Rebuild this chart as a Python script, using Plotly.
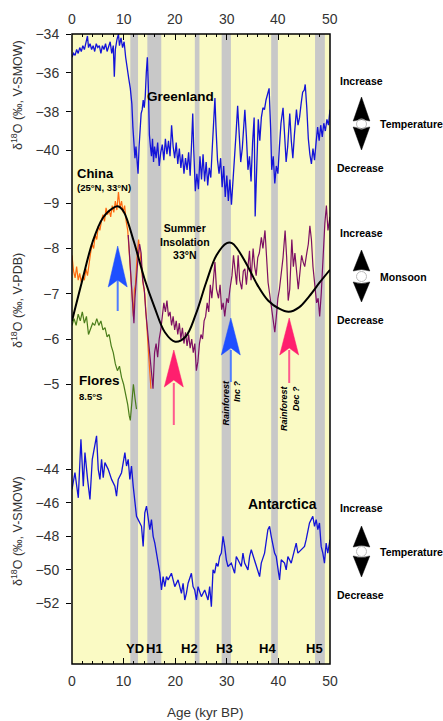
import plotly.graph_objects as go

# ---------------- DATA ----------------
greenland_age = [0.0, 0.3, 0.6, 0.9, 1.2, 1.5, 1.8, 2.1, 2.4, 2.7, 3.0, 3.2, 3.5, 3.8, 4.1, 4.4, 4.7, 5.0,
                 5.3, 5.6, 5.9, 6.2, 6.5, 6.8, 7.1, 7.4, 7.7, 8.0, 8.2, 8.4, 8.7, 9.0, 9.2, 9.5, 9.8, 10.1,
                 10.4, 10.7, 11.0, 11.3, 11.6, 11.8, 12.0, 12.2, 12.4, 12.6, 12.8, 13.0, 13.2, 13.4, 13.6,
                 13.8, 14.0, 14.2, 14.4, 14.6, 14.8, 15.0, 15.2, 15.4, 15.6, 15.8, 16.0, 16.3, 16.6, 16.9,
                 17.2, 17.5, 17.8, 18.1, 18.4, 18.7, 19.0, 19.3, 19.6, 19.9, 20.2, 20.5, 20.8, 21.1, 21.4,
                 21.7, 22.0, 22.3, 22.6, 22.9, 23.2, 23.4, 23.6, 23.9, 24.2, 24.5, 24.8, 25.1, 25.4, 25.7,
                 26.0, 26.3, 26.6, 26.9, 27.2, 27.5, 27.7, 27.9, 28.2, 28.5, 28.8, 29.1, 29.4, 29.7, 30.0,
                 30.3, 30.6, 30.9, 31.2, 31.5, 31.8, 32.1, 32.4, 32.7, 33.0, 33.3, 33.5, 33.8, 34.1, 34.4,
                 34.7, 35.0, 35.3, 35.5, 35.8, 36.1, 36.4, 36.7, 37.0, 37.3, 37.6, 37.9, 38.2, 38.5, 38.7,
                 39.0, 39.3, 39.6, 39.9, 40.2, 40.5, 40.9, 41.2, 41.5, 41.8, 42.2, 42.5, 42.8, 43.1, 43.5,
                 43.8, 44.1, 44.4, 44.7, 45.0, 45.2, 45.5, 45.8, 46.1, 46.4, 46.7, 47.0, 47.3, 47.6, 47.9,
                 48.2, 48.5, 48.8, 49.1, 49.4, 49.7, 50.0]
greenland_d18o = [-35.2, -35.0, -35.1, -34.8, -35.0, -34.7, -34.9, -34.6, -34.8, -34.5, -34.1, -34.7, -34.5,
                  -34.8, -34.6, -34.9, -34.5, -34.7, -34.6, -35.0, -34.6, -34.8, -34.5, -34.9, -34.7, -34.4,
                  -35.0, -34.6, -36.2, -34.8, -34.3, -34.0, -34.6, -34.2, -34.7, -34.4, -35.2, -35.9, -36.3,
                  -36.8, -37.6, -38.8, -39.5, -40.4, -39.8, -40.9, -41.2, -39.8, -39.0, -38.1, -37.9, -37.4,
                  -37.8, -37.2, -36.0, -35.2, -36.8, -39.2, -39.8, -40.3, -39.4, -40.6, -39.8, -40.4, -39.6,
                  -40.8, -40.1, -39.7, -40.5, -39.4, -40.2, -39.5, -40.3, -38.7, -39.8, -40.4, -39.6, -40.7,
                  -39.9, -40.9, -40.2, -41.2, -40.4, -41.0, -40.1, -41.3, -39.5, -38.1, -40.0, -42.1, -41.2,
                  -42.0, -40.3, -41.5, -40.2, -41.6, -40.6, -41.8, -40.9, -41.4, -39.8, -38.5, -37.3, -38.8,
                  -40.5, -41.2, -40.4, -41.9, -40.8, -42.4, -41.3, -42.6, -41.5, -42.8, -41.7, -40.6, -39.1,
                  -37.7, -38.9, -40.6, -39.9, -38.6, -37.9, -39.3, -41.0, -40.3, -41.6, -39.6, -38.3, -43.4,
                  -40.5, -38.4, -39.5, -38.3, -37.8, -37.9, -37.4, -37.1, -36.8, -38.9, -41.0, -40.3, -41.7,
                  -40.8, -41.2, -39.8, -38.6, -37.8, -39.4, -40.6, -39.8, -38.1, -39.5, -40.4, -39.2, -37.9,
                  -38.7, -38.3, -37.6, -37.0, -36.9, -36.6, -37.8, -39.4, -40.2, -40.7, -39.9, -40.5, -39.6,
                  -38.8, -39.5, -38.7, -39.3, -38.6, -39.0, -38.4, -38.7, -37.9]

china_orange_age = [0.0, 0.3, 0.6, 0.9, 1.2, 1.5, 1.8, 2.1, 2.4, 2.7, 3.0, 3.3, 3.6, 3.9, 4.2, 4.5, 4.8, 5.1,
                    5.4, 5.7, 6.0, 6.3, 6.6, 6.9, 7.2, 7.5, 7.8, 8.1, 8.4, 8.7, 9.0, 9.3, 9.6, 9.9, 10.2,
                    10.5, 10.8, 11.1, 11.4, 11.7, 11.9, 12.1, 12.3, 12.6, 12.9, 13.2, 13.5, 13.8, 14.1, 14.4,
                    14.7, 15.0, 15.3]
china_orange_d18o = [-7.85, -7.5, -7.35, -7.6, -7.3, -7.45, -7.25, -7.4, -7.3, -7.55, -7.4, -7.7, -7.9, -8.1,
                     -8.0, -8.3, -8.2, -8.5, -8.4, -8.6, -8.75, -8.6, -8.9, -8.75, -8.85, -8.7, -8.95, -8.8,
                     -9.05, -8.85, -9.25, -8.9, -9.05, -8.8, -8.95, -8.6, -8.4, -7.9, -7.4, -6.9, -6.5, -7.1,
                     -7.2, -7.8, -8.2, -7.9, -7.5, -7.2, -7.0, -6.4, -5.8, -5.4, -4.9]

china_purple_age = [10.9, 11.2, 11.5, 11.8, 12.0, 12.2, 12.5, 12.8, 13.1, 13.4, 13.7, 14.0, 14.3, 14.6, 14.9,
                    15.2, 15.5, 15.7, 16.0, 16.3, 16.6, 16.9, 17.2, 17.5, 17.8, 18.1, 18.4, 18.7, 19.0, 19.3,
                    19.6, 19.9, 20.2, 20.5, 20.8, 21.1, 21.4, 21.7, 22.0, 22.3, 22.6, 22.9, 23.2, 23.5, 23.8,
                    24.1, 24.4, 24.7, 25.0, 25.3, 25.6, 25.9, 26.2, 26.5, 26.8, 27.1, 27.4, 27.7, 28.0, 28.4,
                    28.7, 29.0, 29.3, 29.6, 30.0, 30.3, 30.6, 31.0, 31.3, 31.6, 31.9, 32.2, 32.5, 32.9, 33.2,
                    33.5, 33.8, 34.1, 34.4, 34.7, 35.1, 35.4, 35.7, 36.0, 36.3, 36.7, 37.0, 37.4, 37.7, 38.0,
                    38.3, 38.7, 39.0, 39.3, 39.6, 39.9, 40.2, 40.6, 40.9, 41.3, 41.6, 41.9, 42.2, 42.6, 42.9,
                    43.2, 43.5, 43.85, 44.2, 44.5, 44.8, 45.1, 45.5, 45.8, 46.1, 46.4, 46.7, 47.1, 47.4, 47.7,
                    48.0, 48.3, 48.6, 49.0, 49.3, 49.6, 50.0]
china_purple_d18o = [-8.3, -7.8, -7.2, -6.6, -6.35, -6.9, -7.4, -7.8, -8.1, -7.9, -7.3, -7.1, -6.6, -6.2, -5.9,
                     -5.4, -5.1, -4.9, -5.7, -5.9, -5.6, -6.0, -6.2, -6.5, -6.8, -6.6, -6.85, -6.5, -6.6, -6.3,
                     -6.5, -6.2, -6.4, -6.1, -6.35, -6.0, -6.25, -5.9, -6.15, -5.85, -6.1, -5.8, -6.0, -5.7,
                     -5.9, -5.3, -5.5, -5.9, -6.1, -6.0, -6.4, -6.5, -6.8, -6.6, -7.2, -6.9, -7.3, -7.7, -7.1,
                     -6.9, -7.2, -6.65, -6.8, -6.5, -6.9, -6.8, -7.1, -7.4, -7.85, -7.5, -7.2, -7.85, -7.3,
                     -7.1, -7.5, -7.55, -7.2, -7.6, -7.95, -7.3, -8.0, -7.6, -7.4, -7.8, -7.9, -8.25, -8.0,
                     -8.4, -7.8, -7.25, -7.0, -6.65, -6.4, -6.15, -6.5, -6.9, -7.1, -7.45, -7.8, -8.4, -7.8,
                     -6.85, -7.1, -8.2, -7.6, -7.9, -7.5, -7.1, -7.5, -7.85, -7.7, -7.6, -7.9, -8.1, -8.5,
                     -8.2, -7.6, -7.15, -6.8, -6.9, -6.5, -7.0, -7.8, -8.55, -8.95, -8.4, -8.7]

flores_age = [0.0, 0.4, 0.8, 1.2, 1.6, 2.0, 2.4, 2.8, 3.2, 3.6, 4.0, 4.4, 4.8, 5.2, 5.6, 6.0, 6.4, 6.8, 7.2,
              7.6, 8.0, 8.4, 8.8, 9.2, 9.6, 10.0, 10.4, 10.8, 11.1, 11.3, 11.6, 11.9, 12.2, 12.5]
flores_d18o = [-6.3, -6.45, -6.3, -6.55, -6.4, -6.6, -6.35, -6.5, -6.1, -6.25, -6.35, -6.3, -6.45, -6.3, -6.4,
               -6.2, -6.25, -6.05, -6.1, -5.85, -5.7, -5.45, -5.3, -5.4, -5.15, -5.0, -4.8, -4.55, -4.3, -4.2,
               -4.6, -5.0, -4.7, -4.45]

insolation_age = [0, 2, 4, 6, 8, 9, 10, 12, 14, 16, 18, 20, 22, 24, 26, 28, 30, 31, 32, 34, 36, 38, 40, 42,
                  44, 46, 48, 50]
insolation_val = [-6.40, -7.30, -8.15, -8.68, -8.90, -8.93, -8.82, -8.15, -7.35, -6.70, -6.15, -5.94, -6.05,
                  -6.55, -7.25, -7.85, -8.12, -8.12, -8.00, -7.62, -7.18, -6.85, -6.68, -6.60, -6.70, -6.95,
                  -7.25, -7.53]

antarctica_age = [0.0, 0.57, 1.22, 1.73, 2.19, 2.51, 3.02, 3.48, 3.93, 4.76, 5.09, 5.41, 5.73, 6.05, 6.38,
                  7.02, 7.67, 8.31, 8.63, 8.96, 9.6, 10.25, 10.57, 10.89, 11.21, 11.53, 11.86, 12.18, 12.5,
                  12.82, 13.47, 13.79, 14.11, 14.44, 14.76, 15.08, 15.4, 15.73, 16.05, 16.37, 16.69, 17.02,
                  17.34, 17.66, 17.98, 18.31, 18.63, 19.27, 19.92, 20.56, 21.21, 21.53, 21.85, 22.17, 22.5,
                  23.14, 23.46, 23.78, 24.11, 24.43, 25.07, 25.72, 26.36, 26.68, 27.01, 27.33, 27.65, 27.97,
                  28.3, 28.62, 28.94, 29.27, 29.59, 29.91, 30.23, 30.88, 31.52, 31.84, 32.17, 32.81, 33.13,
                  33.46, 34.1, 34.42, 34.74, 35.39, 36.03, 36.36, 36.68, 37.32, 37.96, 38.29, 38.61, 38.93,
                  39.26, 39.58, 39.9, 40.22, 40.55, 41.19, 41.51, 41.84, 42.48, 43.13, 43.45, 43.77, 44.42,
                  45.06, 45.38, 45.71, 46.03, 46.35, 46.67, 47.0, 47.32, 47.64, 47.96, 48.29, 48.61, 48.93,
                  49.25, 49.57, 50.0]
antarctica_d18o = [-45.2, -44.2, -45.7, -42.2, -45.0, -43.0, -44.6, -45.8, -43.4, -42.0, -44.0, -44.6, -43.4,
                   -44.5, -43.6, -44.0, -44.6, -45.0, -45.6, -44.6, -44.2, -43.0, -43.8, -43.4, -44.6, -43.8,
                   -45.0, -45.8, -46.8, -47.0, -47.4, -48.6, -46.6, -46.2, -46.8, -47.6, -47.0, -48.0, -48.4,
                   -49.0, -49.6, -50.2, -51.2, -50.4, -51.0, -50.4, -50.6, -50.2, -51.0, -50.6, -51.4, -50.8,
                   -51.8, -51.4, -50.8, -50.2, -51.0, -51.2, -51.8, -51.0, -51.6, -51.2, -51.8, -51.0, -52.2,
                   -50.0, -50.2, -49.6, -49.8, -49.2, -49.0, -48.0, -48.6, -49.4, -49.8, -49.6, -50.2, -49.2,
                   -49.4, -49.8, -49.0, -49.6, -50.0, -49.2, -48.8, -49.4, -50.0, -50.4, -49.6, -49.0, -47.6,
                   -47.4, -48.0, -48.6, -49.0, -49.2, -49.8, -50.6, -49.4, -49.6, -50.0, -49.2, -49.6, -48.8,
                   -48.4, -49.0, -48.8, -48.6, -48.2, -47.6, -47.2, -47.0, -46.8, -47.4, -47.0, -47.6, -47.2,
                   -48.6, -49.0, -49.6, -48.4, -49.0, -48.2]

band_start = [11.3, 14.6, 23.8, 29.0, 38.6, 47.1]
band_end = [12.8, 17.3, 24.7, 30.8, 39.9, 49.0]
band_labels = ["YD", "H1", "H2", "H3", "H4", "H5"]
band_label_age = [12.2, 16.0, 22.8, 29.5, 37.9, 46.9]

x_ticks = [0, 10, 20, 30, 40, 50]
greenland_ticks = [-34, -36, -38, -40]
china_ticks = [-9, -8, -7, -6, -5]
antarctica_ticks = [-44, -46, -48, -50, -52]

# ---------------- LAYOUT HELPERS ----------------
W, H = 443, 721
L, R, T, B = 72, 113, 34, 57
PW = W - L - R
PH = H - T - B
FONT = "Liberation Sans, Arial, sans-serif"


def px(xp):
    return (xp - L) / PW


def py(yp):
    return 1 - (yp - T) / PH


fig = go.Figure()

fig.add_trace(go.Scatter(x=greenland_age, y=greenland_d18o, mode="lines", xaxis="x", yaxis="y",
                         line=dict(color="#1414d8", width=1.3), showlegend=False, hoverinfo="skip"))
fig.add_trace(go.Scatter(x=china_orange_age, y=china_orange_d18o, mode="lines", xaxis="x", yaxis="y2",
                         line=dict(color="#ff6a10", width=1.2), showlegend=False, hoverinfo="skip"))
fig.add_trace(go.Scatter(x=flores_age, y=flores_d18o, mode="lines", xaxis="x", yaxis="y2",
                         line=dict(color="#4a7d1a", width=1.2), showlegend=False, hoverinfo="skip"))
fig.add_trace(go.Scatter(x=china_purple_age, y=china_purple_d18o, mode="lines", xaxis="x", yaxis="y2",
                         line=dict(color="#7d0f63", width=1.2), showlegend=False, hoverinfo="skip"))
fig.add_trace(go.Scatter(x=insolation_age, y=insolation_val, mode="lines", xaxis="x", yaxis="y2",
                         line=dict(color="#000000", width=2, shape="spline", smoothing=1.0),
                         showlegend=False, hoverinfo="skip"))
fig.add_trace(go.Scatter(x=antarctica_age, y=antarctica_d18o, mode="lines", xaxis="x", yaxis="y3",
                         line=dict(color="#1414d8", width=1.3), showlegend=False, hoverinfo="skip"))
# invisible trace to activate top x axis
fig.add_trace(go.Scatter(x=[0, 50], y=[-34, -34], mode="lines", xaxis="x2", yaxis="y",
                         line=dict(width=0), opacity=0, showlegend=False, hoverinfo="skip"))

tickfont = dict(family=FONT, size=14, color="#333333")
xcommon = dict(range=[0, 50], tickvals=x_ticks, ticks="inside", ticklen=6, tickwidth=1,
               tickcolor="#000", showgrid=False, zeroline=False, tickfont=tickfont,
               showline=False,
               minor=dict(dtick=2, ticks="inside", ticklen=3, tickcolor="#000"))
ycommon = dict(ticks="outside", ticklen=5, tickcolor="#000", showgrid=False, zeroline=False,
               tickfont=tickfont, showline=False, ticklabelstandoff=4)
fig.update_layout(
    xaxis=dict(**xcommon, anchor="y", side="bottom", ticklabelstandoff=7),
    xaxis2=dict(**xcommon, overlaying="x", anchor="y", side="top", matches="x", showticklabels=False),
    yaxis=dict(range=[-66.47, -34], tickvals=greenland_ticks, **ycommon),
    yaxis2=dict(range=[1.182, -12.741], tickvals=china_ticks, **ycommon,
                overlaying="y", anchor="x", side="left"),
    yaxis3=dict(range=[-55.62, -18.01], tickvals=antarctica_ticks, **ycommon,
                overlaying="y", anchor="x", side="left"),
)

shapes = []
for s, e in zip(band_start, band_end):
    shapes.append(dict(type="rect", xref="x", yref="paper", x0=s, x1=e, y0=0, y1=1,
                       fillcolor="#c8c8c8", line=dict(width=0), layer="below"))
# frame
shapes.append(dict(type="rect", xref="paper", yref="paper", x0=0, x1=1, y0=0, y1=1,
                   line=dict(color="#000", width=1.5), fillcolor="rgba(0,0,0,0)", layer="above"))


def arrow_head(cx, tip, base, half, color, up=True):
    notch = base - 7 if up else base + 7
    return dict(type="path", xref="paper", yref="paper", layer="above",
                path=f"M {px(cx)},{py(tip)} L {px(cx + half)},{py(base)} L {px(cx)},{py(notch)} "
                     f"L {px(cx - half)},{py(base)} Z",
                fillcolor=color, line=dict(color=color, width=0.5))


def shaft(cx, y0, y1, color):
    return dict(type="line", xref="paper", yref="paper", layer="above",
                x0=px(cx), x1=px(cx), y0=py(y0), y1=py(y1), line=dict(color=color, width=2))


# coloured arrows (blue = increase, pink = decrease)
shapes += [shaft(117.7, 280, 311, "#4f7dff"), arrow_head(117.7, 246, 287, 9.5, "#1f4fff"),
           shaft(173.8, 383, 425, "#ff5a8e"), arrow_head(173.8, 350, 387, 9.5, "#ff1f6e"),
           shaft(230.8, 350, 382, "#4f7dff"), arrow_head(230.8, 318, 355, 9.5, "#1f4fff"),
           shaft(289.2, 350, 383, "#ff5a8e"), arrow_head(289.2, 318, 355, 9.5, "#ff1f6e")]


def double_arrow(cx, up_tip, up_base, dn_top, dn_tip):
    mid = (up_base + dn_top) / 2
    return [
        dict(type="path", xref="paper", yref="paper", layer="above",
             path=f"M {px(cx)},{py(up_tip)} L {px(cx + 8.3)},{py(up_base)} Q {px(cx)},{py(up_base - 3)} "
                  f"{px(cx - 8.3)},{py(up_base)} Z",
             fillcolor="#000", line=dict(color="#000", width=0.5)),
        dict(type="path", xref="paper", yref="paper", layer="above",
             path=f"M {px(cx)},{py(dn_tip)} L {px(cx + 8.3)},{py(dn_top)} Q {px(cx)},{py(dn_top + 3)} "
                  f"{px(cx - 8.3)},{py(dn_top)} Z",
             fillcolor="#000", line=dict(color="#000", width=0.5)),
        dict(type="circle", xref="paper", yref="paper", layer="above",
             x0=px(cx - 5), x1=px(cx + 5), y0=py(mid - 5), y1=py(mid + 5),
             line=dict(color="#bbbbbb", width=1), fillcolor="rgba(0,0,0,0)"),
    ]


shapes += double_arrow(361.5, 97, 121, 127, 150)
shapes += double_arrow(361.5, 250, 271, 282, 302)
shapes += double_arrow(361.5, 526, 547, 556, 577)

annotations = []


def ann(text, xp, yp, size, bold=True, color="#000", xanchor="center", angle=0, italic=False, align="center"):
    t = f"<b>{text}</b>" if bold else text
    if italic:
        t = f"<i>{t}</i>"
    annotations.append(dict(text=t, xref="paper", yref="paper", x=px(xp), y=py(yp), showarrow=False,
                            xanchor=xanchor, yanchor="middle", textangle=angle, align=align,
                            font=dict(family=FONT, size=size, color=color)))


# top axis tick labels
for v in x_ticks:
    annotations.append(dict(text=str(v), xref="x", yref="paper", x=v, y=py(19), showarrow=False,
                            xanchor="center", yanchor="middle", font=tickfont))

ann("Greenland", 180.5, 96, 13.5)
ann("China", 75, 173, 13, xanchor="left")
ann("(25°N, 33°N)", 75, 187.5, 9.5, xanchor="left")
ann("Summer<br>Insolation<br>33°N", 185, 242, 10.5)
ann("Flores", 77, 380, 13.5, xanchor="left")
ann("8.5°S", 77, 396, 9.5, xanchor="left")
ann("Antarctica", 282.5, 504, 14)
ann("Rainforest<br>Inc ?", 231.5, 403, 9, italic=True, angle=-90, align="right")
ann("Rainforest<br>Dec ?", 290, 408, 9, italic=True, angle=-90, align="right")

for lab, a in zip(band_labels, band_label_age):
    annotations.append(dict(text=f"<b>{lab}</b>", xref="x", yref="paper", x=a, y=py(648), showarrow=False,
                            xanchor="center", yanchor="middle",
                            font=dict(family=FONT, size=13, color="#000")))

# right-hand legends
for yi, ym, yd, word in [(81, 124, 168, "Temperature"), (233, 277, 320, "Monsoon"), (508, 552, 595, "Temperature")]:
    ann("Increase", 361, yi, 10.5)
    ann("Decrease", 360, yd, 10.5)
    ann(word, 377.5, ym, 10.5, xanchor="left")

# axis titles
ann("δ<sup>18</sup>O (‰, V-SMOW)", 17, 95, 12.5, bold=False, color="#333", angle=-90)
ann("δ<sup>18</sup>O (‰, V-PDB)", 17, 301, 12.5, bold=False, color="#333", angle=-90)
ann("δ<sup>18</sup>O (‰, V-SMOW)", 17, 531, 12.5, bold=False, color="#333", angle=-90)
ann("Age (kyr BP)", 205, 712.5, 13.5, bold=False, color="#333")

fig.update_layout(
    width=W, height=H, margin=dict(l=L, r=R, t=T, b=B, pad=0),
    paper_bgcolor="#ffffff", plot_bgcolor="#fafac4",
    shapes=shapes, annotations=annotations, showlegend=False,
    font=dict(family=FONT, color="#333"),
)

fig.write_html("out.html", config={"displayModeBar": False},
               post_script="document.body.style.margin='0px';document.body.style.padding='0px';"
                           "document.body.style.overflow='hidden';"
                           "document.documentElement.style.overflow='hidden';")
